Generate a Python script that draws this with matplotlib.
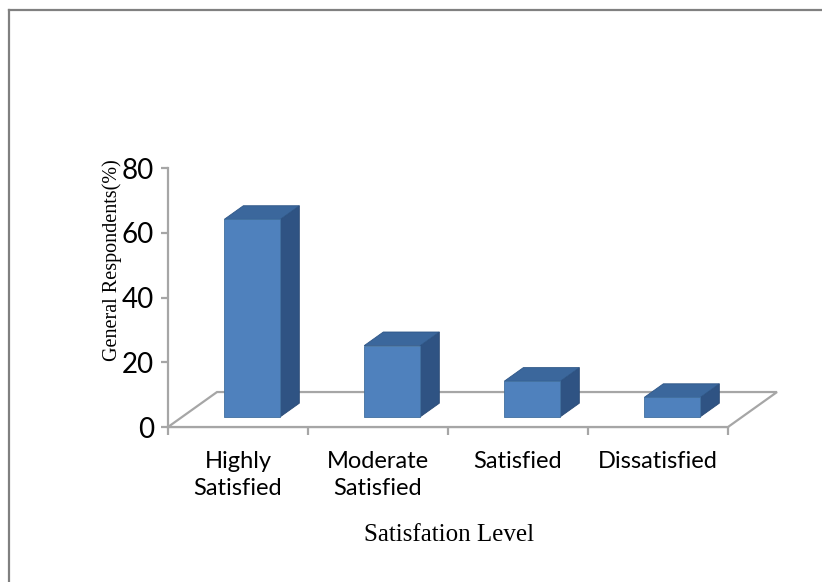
import matplotlib.pyplot as plt
from matplotlib.patches import Polygon
from matplotlib.lines import Line2D

categories = ['Highly\nSatisfied', 'Moderate\nSatisfied', 'Satisfied', 'Dissatisfied']
values = [61, 22, 11, 6]
y_ticks = [0, 20, 40, 60, 80]

# oblique "3d" look, depth offset in data units
DX, DY = 0.35, 10.8
Z0, Z1 = 0.29, 0.68
HALF = 0.2

front_col = '#4F81BD'
side_col = '#2F5383'
top_col = '#3B679C'
grid_col = '#A6A6A6'


def proj(x, y, z):
    return (x + z * DX, y + z * DY)


fig = plt.figure(figsize=(8.22, 5.82), dpi=100)
W, H = 822, 582
ax = fig.add_axes([168 / W, (H - 427) / H, 630 / W, 259 / H])
ax.set_xlim(-0.5, 4.0)
ax.set_ylim(0, 80)

# floor
n = len(categories)
floor = [proj(-0.5, 0, 0), proj(n - 0.5, 0, 0), proj(n - 0.5, 0, 1), proj(-0.5, 0, 1)]
ax.add_patch(Polygon(floor, closed=True, facecolor='white', edgecolor=grid_col,
                     lw=1.6, zorder=1, clip_on=False))

# bars
for i, v in enumerate(values):
    x0, x1 = i - HALF, i + HALF
    front = [proj(x0, 0, Z0), proj(x1, 0, Z0), proj(x1, v, Z0), proj(x0, v, Z0)]
    side = [proj(x1, 0, Z0), proj(x1, 0, Z1), proj(x1, v, Z1), proj(x1, v, Z0)]
    top = [proj(x0, v, Z0), proj(x1, v, Z0), proj(x1, v, Z1), proj(x0, v, Z1)]
    ax.add_patch(Polygon(side, closed=True, facecolor=side_col, edgecolor='#2A4A75',
                         lw=0.6, zorder=3, clip_on=False))
    ax.add_patch(Polygon(top, closed=True, facecolor=top_col, edgecolor='#2E5687',
                         lw=0.6, zorder=3, clip_on=False))
    ax.add_patch(Polygon(front, closed=True, facecolor=front_col, edgecolor='#41709F',
                         lw=0.6, zorder=4, clip_on=False))

for s in ['top', 'right']:
    ax.spines[s].set_visible(False)
ax.spines['left'].set_color(grid_col)
ax.spines['left'].set_linewidth(1.6)
ax.spines['bottom'].set_color(grid_col)
ax.spines['bottom'].set_linewidth(1.6)
ax.spines['bottom'].set_bounds(-0.5, n - 0.5)
ax.spines['left'].set_zorder(0.5)
ax.spines['bottom'].set_zorder(0.5)

ax.set_yticks(y_ticks)
ax.set_yticklabels([str(t) for t in y_ticks], fontsize=20, family='Lato')
ax.tick_params(axis='y', length=5, width=1.6, color=grid_col, pad=5)

ax.set_xticks([i - 0.5 for i in range(n + 1)])
ax.set_xticklabels([])
ax.tick_params(axis='x', length=6, width=1.6, color=grid_col)
ax.set_xticks(range(n), minor=True)
ax.set_xticklabels(categories, minor=True, fontsize=17, family='Lato', linespacing=1.35)
ax.tick_params(axis='x', which='minor', length=0, pad=17)

# y label sits over the tick numbers, as in the source
fig.text(112 / W, 1 - 260 / H, 'General Respondents(%)', rotation=90, ha='center', va='center',
         fontsize=14.5, family='Liberation Serif', zorder=5)
fig.text(449 / W, 1 - 535 / H, 'Satisfation Level', ha='center', va='center',
         fontsize=18, family='Liberation Serif')

# outer frame: only top and left edges show
fig.add_artist(Line2D([8.5 / W, 1], [1 - 9.5 / H, 1 - 9.5 / H], transform=fig.transFigure,
                      color='#808080', lw=1.6))
fig.add_artist(Line2D([8.5 / W, 8.5 / W], [1 - 9.5 / H, 0], transform=fig.transFigure,
                      color='#808080', lw=1.6))

fig.savefig('out.png', dpi=100)
